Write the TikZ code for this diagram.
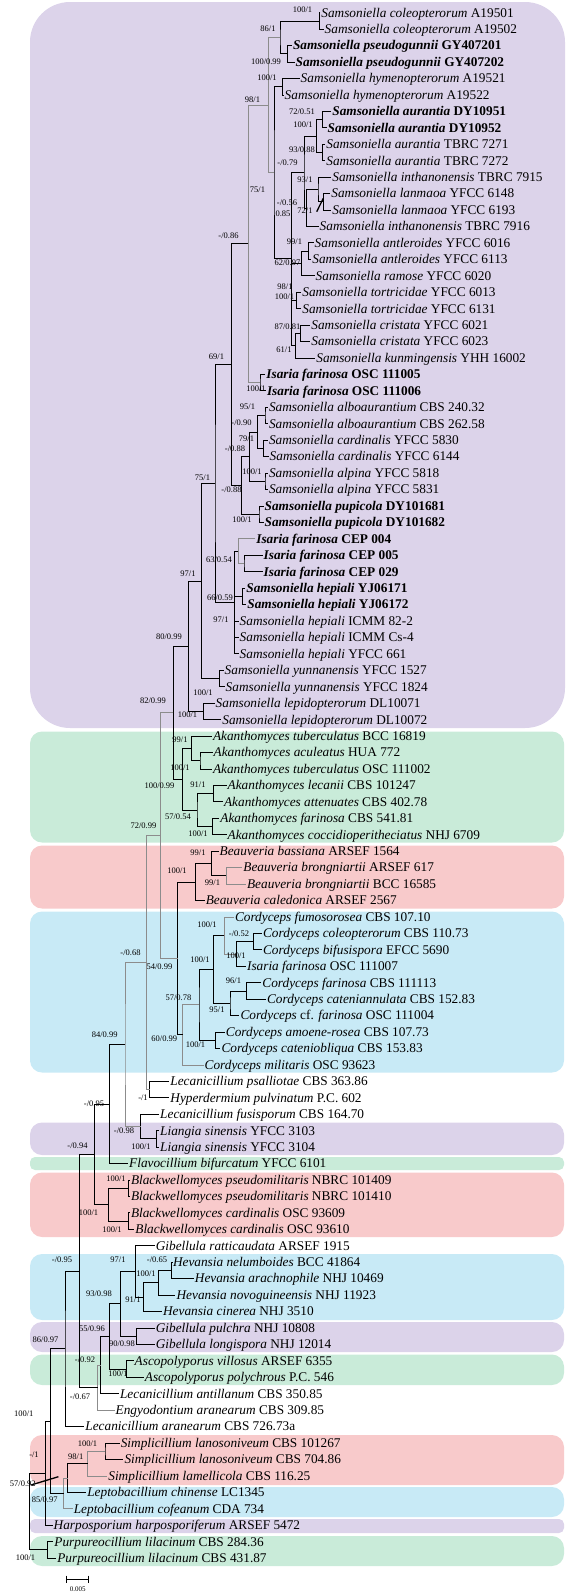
\documentclass[tikz,border=0pt]{standalone}
\usepackage{fontspec}
\setmainfont{Liberation Serif}
\usetikzlibrary{calc}
\definecolor{cpur}{HTML}{DCD3EA}
\definecolor{cgrn}{HTML}{C9EBD9}
\definecolor{cpnk}{HTML}{F8CACB}
\definecolor{cblu}{HTML}{C8EAF6}
\definecolor{gline}{HTML}{8C8C8C}
\tikzset{
 br/.style={line width=0.75pt},
 gbr/.style={line width=0.75pt, draw=gline},
 tiplab/.style={anchor=base west, inner sep=1pt, yshift=-4.4pt, font=\fontsize{13.3}{15}\selectfont},
 sup/.style={inner sep=0pt, font=\fontsize{8.5}{9}\selectfont},
 boxp/.style={fill=cpur, rounded corners=12pt},
 boxg/.style={fill=cgrn, rounded corners=12pt},
 boxr/.style={fill=cpnk, rounded corners=12pt},
 boxb/.style={fill=cblu, rounded corners=12pt},
}
\newcommand\tp[4]{\coordinate (#1) at (#2,{12.7+(#3-1)*16.44}); \node[tiplab] (#1l) at (#1) {#4};}
\newcommand\cl[5][br]{\path let \p1=(#4), \p2=(#5) in coordinate (#2) at (#3pt,{0.5*(\y1+\y2)}); \draw[#1] (#4) -| (#2) |- (#5);}
\newcommand\ex[3][br]{\draw[#1] (#3) -| (#2);}
\newcommand\bs[4]{\node[sup] (#1) at (#2,#3) {#4};}
\newcommand\ti[2]{\textit{#1} #2}
\newcommand\tb[2]{\textbf{\textit{#1} #2}}
\begin{document}
\begin{tikzpicture}[x=1pt,y=-1pt]
\useasboundingbox (0,0) rectangle (572,1596);
% backgrounds
\fill[fill=cpur, rounded corners=40pt] (30,2) rectangle (565,728);
\fill[boxg] (30,731.5) rectangle (564,842.5);
\fill[boxr] (30,845.5) rectangle (564,908.5);
\fill[boxb] (30,911.5) rectangle (564,1072.5);
\fill[boxp] (30,1122.5) rectangle (564,1155);
\fill[boxg, rounded corners=5pt] (30,1157) rectangle (564,1170);
\fill[boxr] (30,1172.5) rectangle (564,1237);
\fill[boxb] (30,1254) rectangle (564,1320);
\fill[boxp] (30,1322) rectangle (564,1352);
\fill[boxg] (30,1354.5) rectangle (564,1385);
\fill[boxr] (30,1435) rectangle (564,1485);
\fill[boxb] (30,1487) rectangle (564,1517);
\fill[boxp, rounded corners=5pt] (30,1519) rectangle (564,1533);
\fill[boxg] (30,1536) rectangle (564,1566);
% tips
\tp{t1}{320.2}{1}{\ti{Samsoniella coleopterorum}{A19501}}
\tp{t2}{323.5}{2}{\ti{Samsoniella coleopterorum}{A19502}}
\tp{t3}{291.8}{3}{\tb{Samsoniella pseudogunnii}{GY407201}}
\tp{t4}{294.5}{4}{\tb{Samsoniella pseudogunnii}{GY407202}}
\tp{t5}{299.5}{5}{\ti{Samsoniella hymenopterorum}{A19521}}
\tp{t6}{283.5}{6}{\ti{Samsoniella hymenopterorum}{A19522}}
\tp{t7}{331.2}{7}{\tb{Samsoniella aurantia}{DY10951}}
\tp{t8}{326.5}{8}{\tb{Samsoniella aurantia}{DY10952}}
\tp{t9}{325.2}{9}{\ti{Samsoniella aurantia}{TBRC 7271}}
\tp{t10}{325.2}{10}{\ti{Samsoniella aurantia}{TBRC 7272}}
\tp{t11}{331.2}{11}{\ti{Samsoniella inthanonensis}{TBRC 7915}}
\tp{t12}{330.2}{12}{\ti{Samsoniella lanmaoa}{YFCC 6148}}
\tp{t13}{331.2}{13}{\ti{Samsoniella lanmaoa}{YFCC 6193}}
\tp{t14}{318.5}{14}{\ti{Samsoniella inthanonensis}{TBRC 7916}}
\tp{t15}{313.5}{15}{\ti{Samsoniella antleroides}{YFCC 6016}}
\tp{t16}{311.2}{16}{\ti{Samsoniella antleroides}{YFCC 6113}}
\tp{t17}{314.5}{17}{\ti{Samsoniella ramose}{YFCC 6020}}
\tp{t18}{301.2}{18}{\ti{Samsoniella tortricidae}{YFCC 6013}}
\tp{t19}{301.2}{19}{\ti{Samsoniella tortricidae}{YFCC 6131}}
\tp{t20}{310.2}{20}{\ti{Samsoniella cristata}{YFCC 6021}}
\tp{t21}{310.2}{21}{\ti{Samsoniella cristata}{YFCC 6023}}
\tp{t22}{315.2}{22}{\ti{Samsoniella kunmingensis}{YHH 16002}}
\tp{t23}{265.2}{23}{\tb{Isaria farinosa}{OSC 111005}}
\tp{t24}{265.8}{24}{\tb{Isaria farinosa}{OSC 111006}}
\tp{t25}{267.8}{25}{\ti{Samsoniella alboaurantium}{CBS 240.32}}
\tp{t26}{267.8}{26}{\ti{Samsoniella alboaurantium}{CBS 262.58}}
\tp{t27}{267.8}{27}{\ti{Samsoniella cardinalis}{YFCC 5830}}
\tp{t28}{268.5}{28}{\ti{Samsoniella cardinalis}{YFCC 6144}}
\tp{t29}{267.8}{29}{\ti{Samsoniella alpina}{YFCC 5818}}
\tp{t30}{267.8}{30}{\ti{Samsoniella alpina}{YFCC 5831}}
\tp{t31}{263.5}{31}{\tb{Samsoniella pupicola}{DY101681}}
\tp{t32}{263.5}{32}{\tb{Samsoniella pupicola}{DY101682}}
\tp{t33}{255.2}{33}{\tb{Isaria farinosa}{CEP 004}}
\tp{t34}{262.5}{34}{\tb{Isaria farinosa}{CEP 005}}
\tp{t35}{262.5}{35}{\tb{Isaria farinosa}{CEP 029}}
\tp{t36}{245.2}{36}{\tb{Samsoniella hepiali}{YJ06171}}
\tp{t37}{246.2}{37}{\tb{Samsoniella hepiali}{YJ06172}}
\tp{t38}{238.5}{38}{\ti{Samsoniella hepiali}{ICMM 82-2}}
\tp{t39}{238.5}{39}{\ti{Samsoniella hepiali}{ICMM Cs-4}}
\tp{t40}{238.5}{40}{\ti{Samsoniella hepiali}{YFCC 661}}
\tp{t41}{223.5}{41}{\ti{Samsoniella yunnanensis}{YFCC 1527}}
\tp{t42}{224.5}{42}{\ti{Samsoniella yunnanensis}{YFCC 1824}}
\tp{t43}{214.5}{43}{\ti{Samsoniella lepidopterorum}{DL10071}}
\tp{t44}{221.2}{44}{\ti{Samsoniella lepidopterorum}{DL10072}}
\tp{t45}{211.8}{45}{\ti{Akanthomyces tuberculatus}{BCC 16819}}
\tp{t46}{212.5}{46}{\ti{Akanthomyces aculeatus}{HUA 772}}
\tp{t47}{211.8}{47}{\ti{Akanthomyces tuberculatus}{OSC 111002}}
\tp{t48}{226.5}{48}{\ti{Akanthomyces lecanii}{CBS 101247}}
\tp{t49}{222.9}{49}{\ti{Akanthomyces attenuates}{CBS 402.78}}
\tp{t50}{219.2}{50}{\ti{Akanthomyces farinosa}{CBS 541.81}}
\tp{t51}{226.5}{51}{\ti{Akanthomyces coccidioperitheciatus}{NHJ 6709}}
\tp{t52}{218.5}{52}{\ti{Beauveria bassiana}{ARSEF 1564}}
\tp{t53}{242.2}{53}{\ti{Beauveria brongniartii}{ARSEF 617}}
\tp{t54}{245.9}{54}{\ti{Beauveria brongniartii}{BCC 16585}}
\tp{t55}{204.6}{55}{\ti{Beauveria caledonica}{ARSEF 2567}}
\tp{t56}{233.8}{56}{\ti{Cordyceps fumosorosea}{CBS 107.10}}
\tp{t57}{261.9}{57}{\ti{Cordyceps coleopterorum}{CBS 110.73}}
\tp{t58}{261.9}{58}{\ti{Cordyceps bifusispora}{EFCC 5690}}
\tp{t59}{245.9}{59}{\ti{Isaria farinosa}{OSC 111007}}
\tp{t60}{261.2}{60}{\ti{Cordyceps farinosa}{CBS 111113}}
\tp{t61}{265.9}{61}{\ti{Cordyceps cateniannulata}{CBS 152.83}}
\tp{t62}{239.3}{62}{\textit{Cordyceps} cf. \textit{farinosa} OSC 111004}
\tp{t63}{224.7}{63}{\ti{Cordyceps amoene-rosea}{CBS 107.73}}
\tp{t64}{220.3}{64}{\ti{Cordyceps cateniobliqua}{CBS 153.83}}
\tp{t65}{203.5}{65}{\ti{Cordyceps militaris}{OSC 93623}}
\tp{t66}{169.2}{66}{\ti{Lecanicillium psalliotae}{CBS 363.86}}
\tp{t67}{169.2}{67}{\ti{Hyperdermium pulvinatum}{P.C. 602}}
\tp{t68}{159}{68}{\ti{Lecanicillium fusisporum}{CBS 164.70}}
\tp{t69}{159}{69}{\ti{Liangia sinensis}{YFCC 3103}}
\tp{t70}{159}{70}{\ti{Liangia sinensis}{YFCC 3104}}
\tp{t71}{128}{71}{\ti{Flavocillium bifurcatum}{YFCC 6101}}
\tp{t72}{129.8}{72}{\ti{Blackwellomyces pseudomilitaris}{NBRC 101409}}
\tp{t73}{129.8}{73}{\ti{Blackwellomyces pseudomilitaris}{NBRC 101410}}
\tp{t74}{129.8}{74}{\ti{Blackwellomyces cardinalis}{OSC 93609}}
\tp{t75}{134.2}{75}{\ti{Blackwellomyces cardinalis}{OSC 93610}}
\tp{t76}{154.6}{76}{\ti{Gibellula ratticaudata}{ARSEF 1915}}
\tp{t77}{171.8}{77}{\ti{Hevansia nelumboides}{BCC 41864}}
\tp{t78}{193.7}{78}{\ti{Hevansia arachnophile}{NHJ 10469}}
\tp{t79}{175.4}{79}{\ti{Hevansia novoguineensis}{NHJ 11923}}
\tp{t80}{161.9}{80}{\ti{Hevansia cinerea}{NHJ 3510}}
\tp{t81}{154.6}{81}{\ti{Gibellula pulchra}{NHJ 10808}}
\tp{t82}{154.6}{82}{\ti{Gibellula longispora}{NHJ 12014}}
\tp{t83}{133.5}{83}{\ti{Ascopolyporus villosus}{ARSEF 6355}}
\tp{t84}{143.7}{84}{\ti{Ascopolyporus polychrous}{P.C. 546}}
\tp{t85}{118.9}{85}{\ti{Lecanicillium antillanum}{CBS 350.85}}
\tp{t86}{114.5}{86}{\ti{Engyodontium aranearum}{CBS 309.85}}
\tp{t87}{84.2}{87}{\ti{Lecanicillium aranearum}{CBS 726.73a}}
\tp{t88}{119.6}{88}{\ti{Simplicillium lanosoniveum}{CBS 101267}}
\tp{t89}{123.3}{89}{\ti{Simplicillium lanosoniveum}{CBS 704.86}}
\tp{t90}{107.2}{90}{\ti{Simplicillium lamellicola}{CBS 116.25}}
\tp{t91}{86.1}{91}{\ti{Leptobacillium chinense}{LC1345}}
\tp{t92}{72.6}{92}{\ti{Leptobacillium cofeanum}{CDA 734}}
\tp{t93}{52.5}{93}{\ti{Harposporium harposporiferum}{ARSEF 5472}}
\tp{t94}{53.2}{94}{\ti{Purpureocillium lilacinum}{CBS 284.36}}
\tp{t95}{56.1}{95}{\ti{Purpureocillium lilacinum}{CBS 431.87}}
% Samsoniella
\cl{A}{319.3}{t1}{t2}
\cl{B}{287.7}{t3}{t4}
\cl{C}{280}{A}{B}
\cl{D}{282.5}{t5}{t6}
\cl{E}{322.7}{t7}{t8}
\cl{F}{322.7}{t9}{t10}
\cl{G}{316.7}{E}{F}
\cl{H}{323.3}{t12}{t13}
\cl{I}{318}{t11}{H}
\cl{J}{306.7}{I}{t14}
\cl{M}{304}{G}{J}
\cl{P1}{308.3}{t15}{t16}
\cl{P}{301.7}{P1}{t17}
\cl{T}{296.7}{t18}{t19}
\cl{Cr}{300.7}{t20}{t21}
\cl{K}{295.2}{Cr}{t22}
\cl{V}{291.7}{M}{K}
\ex{V}{P}\ex{V}{T}
\cl{W}{274}{D}{V}
\cl[gbr]{N98}{268.3}{C}{W}
\cl{IsO}{260}{t23}{t24}
\cl[gbr]{Y}{248.3}{N98}{IsO}
\cl{Alb}{265}{t25}{t26}
\cl{Car}{263.3}{t27}{t28}
\cl{Aa}{257.7}{Alb}{Car}
\cl{Alp}{265}{t29}{t30}
\cl{Aal}{249.3}{Aa}{Alp}
\cl{Pup}{259}{t31}{t32}
\cl{Ap}{241.7}{Aal}{Pup}
\cl{N69}{231.7}{Y}{Ap}
\cl{C05}{244}{t34}{t35}
\cl[gbr]{Cep}{238.3}{t33}{C05}
\cl{YJ}{242.7}{t36}{t37}
\cl{Hep}{234.3}{Cep}{t40}
\ex{Hep}{YJ}\ex{Hep}{t38}\ex{Hep}{t39}
\cl{N215}{215}{N69}{Hep}
\cl{Yun}{219.3}{t41}{t42}
\cl{N201}{201.7}{N215}{Yun}
\cl{L}{203.3}{t43}{t44}
\cl{N188}{188.3}{N201}{L}
% Akanthomyces
\cl{Ak2}{200}{t46}{t47}
\cl{Ak1}{191.7}{t45}{Ak2}
\cl{Ak3}{213.4}{t48}{t49}
\cl{Ak5}{212.3}{t50}{t51}
\cl{Ak4}{197}{Ak3}{Ak5}
\cl{Ak0}{182.4}{Ak1}{Ak4}
\cl{N173}{173.3}{N188}{Ak0}
% Beauveria
\cl[gbr]{Br}{226.2}{t53}{t54}
\cl{Bb}{211.6}{t52}{Br}
\cl{Bc}{195.2}{Bb}{t55}
% Cordyceps
\cl{Cb}{253.6}{t57}{t58}
\cl{Ci}{236.4}{Cb}{t59}
\cl[gbr]{Cf}{224.4}{t56}{Ci}
\cl{Cfc}{246.2}{t60}{t61}
\cl{Cff}{230}{Cfc}{t62}
\cl{Cg}{213.4}{Cf}{Cff}
\cl{Ca}{215.5}{t63}{t64}
\cl{Cm}{199}{Cg}{Ca}
\cl[gbr]{Cmil}{182.7}{Cm}{t65}
\cl{N177}{177.5}{Bc}{Cmil}
\cl[gbr]{N160}{160.3}{N173}{N177}
\cl{LH}{149.6}{t66}{t67}
\cl[gbr]{N146}{146.5}{N160}{LH}
\cl{Lia}{156.1}{t69}{t70}
\cl{Lf}{140.5}{t68}{Lia}
\cl[gbr]{N124}{125}{N146}{Lf}
\cl{N109}{109.5}{N124}{t71}
\cl{Bp}{128.4}{t72}{t73}
\cl{Bcd}{128.4}{t74}{t75}
\cl{Bw}{108.7}{Bp}{Bcd}
\cl{N94}{94.1}{N109}{Bw}
% Gibellula / Hevansia
\cl{Hna}{171.5}{t77}{t78}
\cl{Hn}{158.7}{Hna}{t79}
\cl{Hc}{143.4}{Hn}{t80}
\cl{Hg}{135.7}{t76}{Hc}
\cl{Gp}{136.8}{t81}{t82}
\cl{Hgg}{120.4}{Hg}{Gp}
\cl{Asc}{125.9}{t83}{t84}
\cl{Ha}{109.5}{Hgg}{Asc}
\cl{Nant}{100.5}{Ha}{t85}
\cl[gbr]{Neng}{97.8}{Nant}{t86}
\cl{N79}{79.5}{N94}{Neng}
\cl{N65}{65}{N79}{t87}
% Simplicillium / root
\cl{S12}{105}{t88}{t89}
\cl[gbr]{Sl}{87.6}{S12}{t90}
\cl{Q1}{67.5}{Sl}{t91}
\cl[gbr]{Lc}{63.8}{Q1}{t92}
\cl{N50}{50.3}{N65}{Lc}
\cl{N45}{44.9}{N50}{t93}
\cl{Purp}{47.4}{t94}{t95}
\cl{R0}{29.2}{N45}{Purp}
% odd marks
\coordinate (d1a) at (316.7,211.7); \coordinate (d1b) at (323.3,198.3);
\draw[line width=1.3pt] (d1a) -- (d1b);
\coordinate (d2a) at (31,1485); \coordinate (d2b) at (58.4,1476.7);
\draw[line width=1.3pt] (d2a) -- (d2b);
% scale bar
\coordinate (sbA) at (66.8,1579); \coordinate (sbB) at (88.7,1579);
\draw[br] (sbA) -- (sbB);
\draw[br] ($(sbA)+(0,-3.5)$) -- ($(sbA)+(0,3.5)$);
\draw[br] ($(sbB)+(0,-3.5)$) -- ($(sbB)+(0,3.5)$);
\node[sup, font=\fontsize{7}{8}\selectfont] (sbl) at (77.7,1589) {0.005};
% support values
\bs{s1}{302.5}{9.3}{100/1}
\bs{s2}{268}{28.3}{86/1}
\bs{s3}{266}{61.7}{100/0.99}
\bs{s4}{267}{77.3}{100/1}
\bs{s5}{252.5}{99.3}{98/1}
\bs{s6}{302}{111.7}{72/0.51}
\bs{s7}{303}{125}{100/1}
\bs{s8}{302}{150}{93/0.88}
\bs{s9}{287.5}{162.3}{-/0.79}
\bs{s10}{305}{180}{93/1}
\bs{s11}{257.5}{190}{75/1}
\bs{s12}{287}{202.7}{-/0.56}
\bs{s13}{305}{210.7}{72/1}
\bs{s14}{283}{214}{0.85}
\bs{s15}{228.5}{236}{-/0.86}
\bs{s16}{294.5}{241.7}{99/1}
\bs{s17}{287.5}{262.7}{62/0.97}
\bs{s18}{285}{286.7}{98/1}
\bs{s19}{284.5}{296.7}{100/1}
\bs{s20}{287.5}{326.7}{87/0.81}
\bs{s21}{284}{350}{61/1}
\bs{s22}{216.5}{356.7}{69/1}
\bs{s23}{256}{388.3}{100/1}
\bs{s24}{247.5}{406.7}{95/1}
\bs{s25}{241.5}{422.3}{-/0.90}
\bs{s26}{246.5}{439}{79/1}
\bs{s27}{235}{448.3}{-/0.88}
\bs{s28}{252}{471.7}{100/1}
\bs{s29}{202.5}{477.3}{75/1}
\bs{s30}{231.5}{490}{-/0.88}
\bs{s31}{242}{520}{100/1}
\bs{s32}{219}{559.3}{63/0.54}
\bs{s33}{188}{573.3}{97/1}
\bs{s34}{220}{597.3}{66/0.59}
\bs{s35}{221}{619.3}{97/1}
\bs{s36}{169}{636.7}{80/0.99}
\bs{s37}{203}{692.7}{100/1}
\bs{s38}{153}{700.7}{82/0.99}
\bs{s39}{187.5}{715}{100/1}
\bs{s40}{180}{739.3}{99/1}
\bs{s41}{180}{767.3}{100/1}
\bs{s42}{159.5}{786}{100/0.99}
\bs{s43}{198}{785}{91/1}
\bs{s44}{178}{816.7}{57/0.54}
\bs{s45}{143.5}{826}{72/0.99}
\bs{s46}{198}{833.3}{100/1}
\bs{s47}{198}{853}{99/1}
\bs{s48}{177}{871}{100/1}
\bs{s49}{212.5}{882.5}{99/1}
\bs{s50}{207}{925}{100/1}
\bs{s51}{239}{933.3}{-/0.52}
\bs{s52}{236}{956}{100/1}
\bs{s53}{130.5}{952.7}{-/0.68}
\bs{s54}{200}{959.3}{100/1}
\bs{s55}{159.5}{966.7}{54/0.99}
\bs{s56}{233.5}{980.7}{96/1}
\bs{s57}{178.5}{997.3}{57/0.78}
\bs{s58}{217}{1010}{95/1}
\bs{s59}{104.7}{1035}{84/0.99}
\bs{s60}{164.3}{1039}{60/0.99}
\bs{s61}{195.5}{1045}{100/1}
\bs{s62}{143}{1098}{-/1}
\bs{s63}{94}{1103.3}{-/0.95}
\bs{s64}{124}{1130.7}{-/0.98}
\bs{s65}{141}{1146.7}{100/1}
\bs{s66}{77.5}{1146}{-/0.94}
\bs{s67}{116}{1178.3}{100/1}
\bs{s68}{88.5}{1212.7}{100/1}
\bs{s69}{112}{1229.3}{100/1}
\bs{s70}{62}{1260}{-/0.95}
\bs{s71}{118}{1260}{97/1}
\bs{s72}{157}{1260}{-/0.65}
\bs{s73}{146}{1274}{100/1}
\bs{s74}{99}{1293.3}{93/0.98}
\bs{s75}{133}{1300}{91/1}
\bs{s76}{92}{1328.3}{55/0.96}
\bs{s77}{45.6}{1340}{86/0.97}
\bs{s78}{122}{1344}{90/0.98}
\bs{s79}{85}{1360}{-/0.92}
\bs{s80}{118}{1373.3}{100/1}
\bs{s81}{80}{1396.7}{-/0.67}
\bs{s82}{23.7}{1413.3}{100/1}
\bs{s83}{87.5}{1444}{100/1}
\bs{s84}{34}{1455}{-/1}
\bs{s85}{75.7}{1456.7}{98/1}
\bs{s86}{22.8}{1484}{57/0.92}
\bs{s87}{44.7}{1500}{85/0.97}
\bs{s88}{25.5}{1557.7}{100/1}
\end{tikzpicture}
\end{document}
